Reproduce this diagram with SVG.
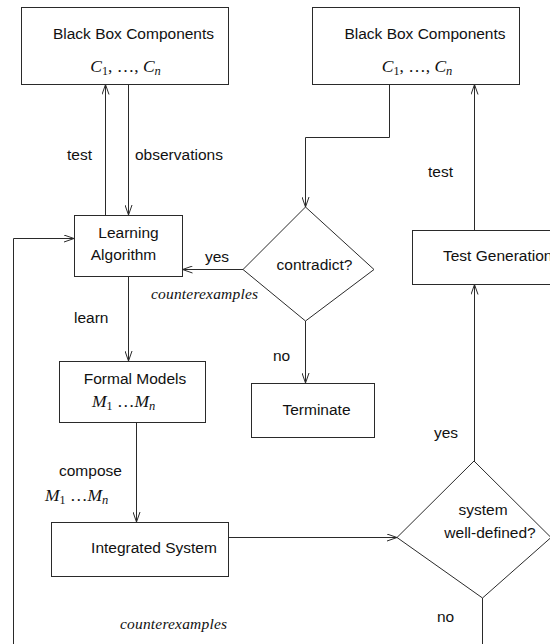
<svg xmlns="http://www.w3.org/2000/svg" width="550" height="644" viewBox="0 0 550 644">
<style>
.box{fill:#fff;stroke:#2a2a2a;stroke-width:1}
.ln{fill:none;stroke:#2a2a2a;stroke-width:1}
.t{font-family:"Liberation Sans",Arial,sans-serif;font-size:15.5px;fill:#111}
.m{font-family:"Liberation Serif","Times New Roman",serif;font-size:17.5px;font-style:italic;fill:#111}
.s{font-style:normal;font-size:12px}
.si{font-style:italic;font-size:12.5px}
.up{font-style:normal}
.it{font-family:"Liberation Serif","Times New Roman",serif;font-size:15.5px;font-style:italic;fill:#111}
</style>
<defs>
<marker id="a" viewBox="0 0 10 8" refX="10" refY="4" markerWidth="10" markerHeight="8" markerUnits="userSpaceOnUse" orient="auto">
<path d="M0,0.5 L10,4 L0,7.5" fill="none" stroke="#2a2a2a" stroke-width="1"/>
</marker>
</defs>
<rect width="550" height="644" fill="#fff"/>
<g id="connectors">
<path class="ln" d="M105.5,215 V84.5" marker-end="url(#a)"/>
<path class="ln" d="M128.5,84.5 V215" marker-end="url(#a)"/>
<path class="ln" d="M389.5,84.5 V137.5 H305.5 V207" marker-end="url(#a)"/>
<path class="ln" d="M243,269.5 H182.5" marker-end="url(#a)"/>
<path class="ln" d="M305.5,321 V383" marker-end="url(#a)"/>
<path class="ln" d="M128.5,276.5 V361" marker-end="url(#a)"/>
<path class="ln" d="M136.5,422.5 V522" marker-end="url(#a)"/>
<path class="ln" d="M228.5,537.5 H397" marker-end="url(#a)"/>
<path class="ln" d="M474.5,461 V284.5" marker-end="url(#a)"/>
<path class="ln" d="M474.5,230.5 V84.5" marker-end="url(#a)"/>
<path class="ln" d="M482.5,598 V644"/>
<path class="ln" d="M13.5,644 V238.5 H74" marker-end="url(#a)"/>
</g>
<g id="labels">
<text class="t" x="67" y="160">test</text>
<text class="t" x="135" y="160">observations</text>
<text class="t" x="428" y="177">test</text>
<text class="t" x="205" y="262">yes</text>
<text class="it" x="151" y="299" textLength="107">counterexamples</text>
<text class="t" x="74" y="323">learn</text>
<text class="t" x="273" y="361">no</text>
<text class="t" x="434" y="438">yes</text>
<text class="t" x="59" y="476">compose</text>
<text class="m" x="45" y="501">M<tspan class="s" dy="3">1</tspan><tspan class="up" dy="-3"> …</tspan>M<tspan class="si" dy="3">n</tspan></text>
<text class="it" x="120" y="629" textLength="107">counterexamples</text>
<text class="t" x="437" y="622">no</text>
</g>
<g id="bb1">
<rect class="box" x="21.5" y="7.5" width="207" height="77"/>
<text class="t" x="133.5" y="39" text-anchor="middle">Black Box Components</text>
<text class="m" x="125.5" y="72" text-anchor="middle">C<tspan class="s" dy="3">1</tspan><tspan class="up" dy="-3">, …, </tspan>C<tspan class="si" dy="3">n</tspan></text>
</g>
<g id="bb2">
<rect class="box" x="312.5" y="7.5" width="207" height="77"/>
<text class="t" x="425" y="39" text-anchor="middle">Black Box Components</text>
<text class="m" x="417" y="72" text-anchor="middle">C<tspan class="s" dy="3">1</tspan><tspan class="up" dy="-3">, …, </tspan>C<tspan class="si" dy="3">n</tspan></text>
</g>
<g id="learning">
<rect class="box" x="74.5" y="215.5" width="108" height="61"/>
<text class="t" x="128.5" y="238" text-anchor="middle">Learning</text>
<text class="t" x="123.5" y="260" text-anchor="middle">Algorithm</text>
</g>
<g id="contradict">
<path class="box" d="M305.5,207 L374,269.5 L305.5,321 L243,269.5 Z"/>
<text class="t" x="314.5" y="270" text-anchor="middle">contradict?</text>
</g>
<g id="testgen">
<rect class="box" x="412.5" y="230.5" width="150" height="54"/>
<text class="t" x="443" y="261">Test Generation</text>
</g>
<g id="formal">
<rect class="box" x="59.5" y="361.5" width="146" height="61"/>
<text class="t" x="135" y="384" text-anchor="middle">Formal Models</text>
<text class="m" x="92" y="407">M<tspan class="s" dy="3">1</tspan><tspan class="up" dy="-3"> …</tspan>M<tspan class="si" dy="3">n</tspan></text>
</g>
<g id="terminate">
<rect class="box" x="251.5" y="383.5" width="123" height="54"/>
<text class="t" x="316.5" y="415" text-anchor="middle">Terminate</text>
</g>
<g id="integrated">
<rect class="box" x="51.5" y="522.5" width="177" height="54"/>
<text class="t" x="154" y="553" text-anchor="middle">Integrated System</text>
</g>
<g id="welldefined">
<path class="box" d="M474,461 L551,537.5 L482.5,598 L397,537.5 Z"/>
<text class="t" x="483" y="515" text-anchor="middle">system</text>
<text class="t" x="490" y="538" text-anchor="middle">well-defined?</text>
</g>
</svg>
